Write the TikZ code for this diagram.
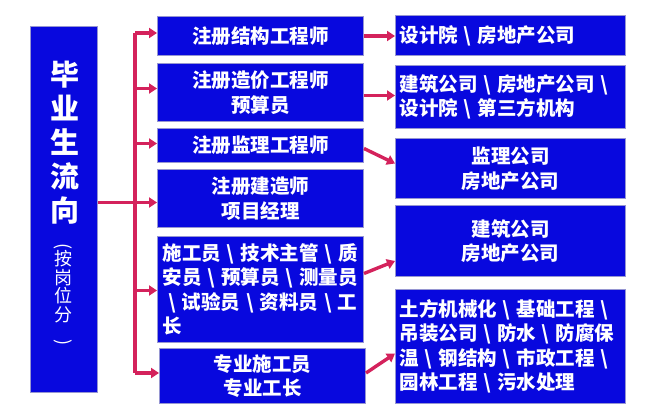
\documentclass[tikz,border=0pt]{standalone}
\usepackage{fontspec}
\usepackage{graphicx}
\setmainfont{Noto Sans CJK SC}
\usetikzlibrary{arrows.meta}
\definecolor{boxblue}{RGB}{8,8,222}
\definecolor{boxedge}{RGB}{150,150,210}
\definecolor{arrowred}{RGB}{212,34,92}
\newcommand{\bsl}{\makebox[1em][c]{\textbackslash}}
\begin{document}
\begin{tikzpicture}[x=1pt,y=-1pt,
  box/.style={draw=boxedge,line width=1pt,fill=boxblue,text=white,anchor=north west,inner sep=0pt,
    font=\bfseries\fontsize{19.5}{24.5}\selectfont,align=center},
  link/.style={draw=arrowred,line width=3.4pt},
  arr/.style={link,-{Triangle[length=8pt,width=10pt]}}]
\useasboundingbox (0,0) rectangle (651,420);
\fill[white] (0,0) rectangle (651,420);
% left box
\node[box,minimum width=67pt,minimum height=366pt] (L) at (30,26) {};
\node[text=white,font=\bfseries\fontsize{29}{34}\selectfont,align=center,anchor=north] (Ltitle) at (65,58) {毕\\业\\生\\流\\向};
\node[text=white,font=\fontsize{18}{18.5}\selectfont,align=center,anchor=north] (Lsub) at (63,240) {\rotatebox{-90}{(}\\按\\岗\\位\\分\\\rotatebox{-90}{)}};
% middle boxes
\node[box,minimum width=206pt,minimum height=39pt] (M1) at (157,16) {注册结构工程师};
\node[box,minimum width=206pt,minimum height=58pt] (M2) at (157,63) {注册造价工程师\\预算员};
\node[box,minimum width=206pt,minimum height=34pt] (M3) at (157,128) {注册监理工程师};
\node[box,minimum width=206pt,minimum height=58pt] (M4) at (157,169) {注册建造师\\项目经理};
\node[box,minimum width=206pt,minimum height=106pt,text width=196pt,align=left] (M5) at (157,236) {施工员\bsl 技术主管\bsl 质\\安员\bsl 预算员\bsl 测量员\\\bsl 试验员\bsl 资料员\bsl 工\\长};
\node[box,minimum width=206pt,minimum height=55pt] (M6) at (159,348) {专业施工员\\专业工长};
% right boxes
\node[box,minimum width=230pt,minimum height=40pt,text width=222pt,align=left] (R1) at (395,15) {设计院\bsl 房地产公司};
\node[box,minimum width=230pt,minimum height=63pt,text width=222pt,align=left] (R2) at (395,65) {建筑公司\bsl 房地产公司\bsl\\设计院\bsl 第三方机构};
\node[box,minimum width=230pt,minimum height=60pt] (R3) at (395,138) {监理公司\\房地产公司};
\node[box,minimum width=230pt,minimum height=71pt] (R4) at (395,205) {建筑公司\\房地产公司};
\node[box,minimum width=230pt,minimum height=114pt,text width=222pt,align=left] (R5) at (395,289) {土方机械化\bsl 基础工程\bsl\\吊装公司\bsl 防水\bsl 防腐保\\温\bsl 钢结构\bsl 市政工程\bsl\\园林工程\bsl 污水处理};
% trunk (yshift is in page direction: positive = up)
\coordinate (T) at (135,0);
\draw[link] ([yshift=3pt]M1.west -| T) -- ([yshift=3pt]M6.west -| T);
\draw[link] ([yshift=-4pt]M4.west -| L.east) -- ([yshift=-4pt]M4.west -| T);
\draw[arr] ([yshift=3pt]M1.west -| T) -- ([yshift=3pt]M1.west);
\draw[arr] ([yshift=4pt]M2.west -| T) -- ([yshift=4pt]M2.west);
\draw[arr] ([yshift=2pt]M3.west -| T) -- ([yshift=2pt]M3.west);
\draw[arr] ([yshift=-4pt]M4.west -| T) -- ([yshift=-4pt]M4.west);
\draw[arr] ([yshift=-1pt]M5.west -| T) -- ([yshift=-1pt]M5.west);
\draw[arr] ([yshift=3pt]M6.west -| T) -- ([yshift=3pt]M6.west);
% right arrows
\draw[arr] (M1.east) -- (M1.east -| R1.west);
\draw[arr] ([yshift=-3pt]M2.east) -- ([yshift=-3pt]M2.east -| R2.west);
\draw[arr] ([yshift=-3pt]M3.east) -- ([yshift=5pt]R3.west);
\draw[arr] ([yshift=16pt]M5.east) -- ([yshift=-20pt]R4.west);
\draw[arr] ([yshift=3pt]M6.east) -- ([yshift=-7pt]R5.west);
\end{tikzpicture}
\end{document}
